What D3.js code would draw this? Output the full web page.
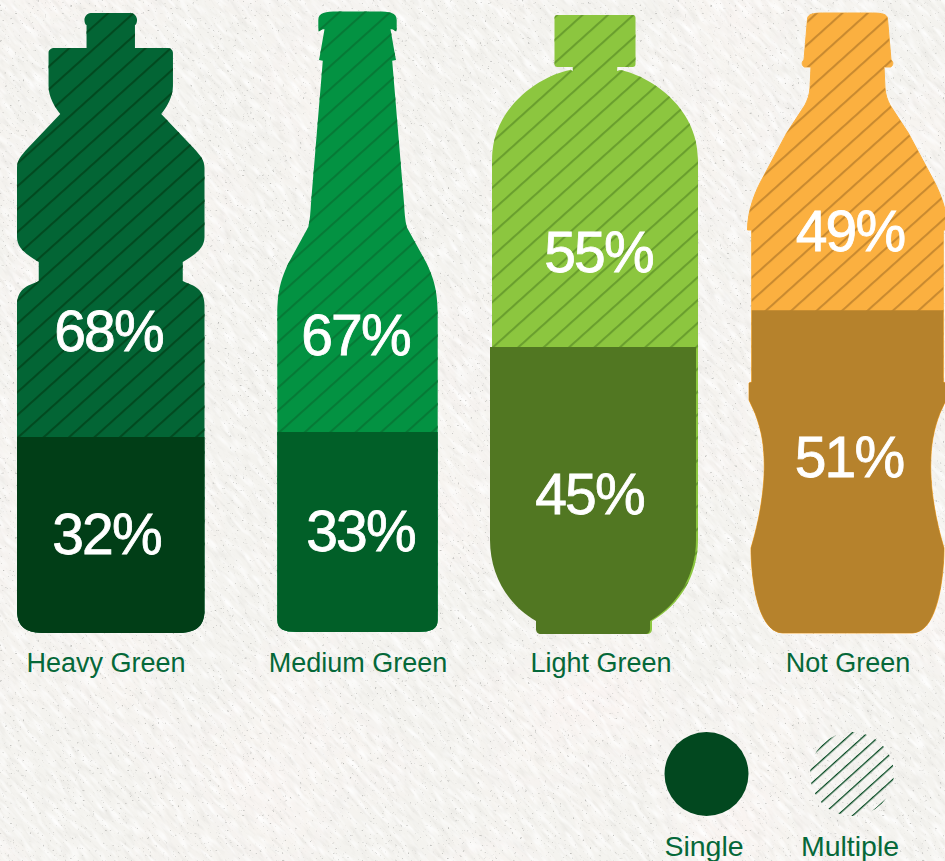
<!DOCTYPE html>
<html>
<head>
<meta charset="utf-8">
<script src="https://cdnjs.cloudflare.com/ajax/libs/d3/7.8.5/d3.min.js"></script>
<style>
  html, body { margin: 0; padding: 0; background: #f4f3ef; overflow: hidden; }
  svg { display: block; }
  text { font-family: "Liberation Sans", Arial, sans-serif; }
</style>
</head>
<body>
<svg id="chart" width="945" height="861"></svg>
<script>
// Drinker groups and the share of single vs multiple purchases
const categories = ["Heavy Green", "Medium Green", "Light Green", "Not Green"];
const singleShare = [32, 33, 45, 51];
const multipleShare = [68, 67, 55, 49];
const legendLabels = ["Single", "Multiple"];

// Palette per bottle
const upperColors = ["#036535", "#039242", "#8cc63f", "#fbb040"];
const lowerColors = ["#013e17", "#015f28", "#517722", "#b6822c"];
const hatchColors = ["#024a20", "#067a36", "#6a9f2e", "#c98a30"];
const labelColor = "#056839";
const legendColor = "#02481f";

// Layout per bottle
const bottleCentres = [110.75, 357.5, 595, 847.5];
const fillRanges = [[633, 20.5], [632, 26], [634, -4], [633, 0]];
const lowerShift = [0, 0, -2, 0];
const upperOutline = [0, 0, 0, 1];
const hatchOrigins = [[17, 200], [277, 317], [492, 177], [752, 245]];
const categoryLabelX = [106, 358, 601, 848];
const singleLabelPos = [[106.5, 554], [360.5, 551], [589.5, 514], [849, 477]];
const multipleLabelPos = [[108.5, 351], [355.5, 355], [598.5, 272], [850, 251]];

// Right-hand half of each silhouette, as offsets from the bottle's centre line.
// L = [u, y], C = [u1, y1, u2, y2, u, y]
const sportProfile = [
  [0, 13], [20, 13], [24, 13, 26.3, 17, 26.3, 20], [26.3, 23, 25, 25, 24.2, 25], [24.2, 48],
  [56, 48], [60, 48, 62.2, 50, 62.2, 53], [62.2, 86], [62.2, 97, 56, 107, 50.5, 114],
  [82.8, 148], [90, 156, 93.75, 160, 93.75, 168], [93.75, 237],
  [93.75, 248, 85, 254, 72, 262], [72, 281], [80, 285, 93.75, 287, 93.75, 305],
  [93.75, 610], [93.75, 628, 84, 633, 65, 633], [0, 633]
];
const beerProfile = [
  [0, 11.5], [20, 11.5], [32, 11.5, 39.2, 12.5, 39.2, 20], [39.2, 28], [38.7, 31.5], [36, 29.5, 34, 29, 33, 29.3],
  [37.5, 55], [38.5, 60], [34.7, 60.7], [46.5, 203], [47, 212, 47.5, 220, 49.2, 227],
  [69, 263], [76, 278, 80.2, 290, 80.2, 315], [80.2, 620], [80.2, 629, 74, 632, 60, 632], [0, 632]
];
const jugProfile = [
  [0, 15], [37.5, 15], [39.5, 15, 40.5, 16, 40.5, 18], [40.5, 64], [40.5, 66, 39.5, 67, 37.5, 67],
  [22.3, 67], [22, 71], [25, 70], [52, 75, 103, 105, 103, 160], [103, 540],
  [103, 575, 85, 605, 57, 621], [57, 629], [57, 632, 55, 634, 52, 634], [0, 634]
];
const colaProfile = [
  [0, 13], [25, 13], [35, 13, 40, 14.5, 40, 19], [43.5, 60], [46, 61, 46, 66, 43, 67], [36.5, 67],
  [37.5, 88], [38, 95, 40, 100, 42.5, 105], [60.8, 133], [87.5, 183], [92, 192, 100, 210, 100, 230],
  [95.8, 230], [95.8, 382], [98.5, 383], [98.5, 400], [92.5, 413], [86, 430, 83.2, 445, 83.2, 467],
  [83.2, 480, 85, 510, 96.5, 548], [96.5, 570, 92, 632, 65, 633], [0, 633]
];
const profiles = [sportProfile, beerProfile, jugProfile, colaProfile];

// Walks the half profile down the right side, then back up the mirrored left side.
function silhouette(profile) {
  const p = d3.path();
  p.moveTo(profile[0][0], profile[0][1]);
  profile.slice(1).forEach(s => {
    if (s.length === 2) p.lineTo(s[0], s[1]);
    else p.bezierCurveTo(s[0], s[1], s[2], s[3], s[4], s[5]);
  });
  for (let i = profile.length - 1; i > 0; i--) {
    const s = profile[i], prev = profile[i - 1];
    const end = prev.slice(-2);
    if (s.length === 2) p.lineTo(-end[0], end[1]);
    else p.bezierCurveTo(-s[2], s[3], -s[0], s[1], -end[0], end[1]);
  }
  p.closePath();
  return p.toString();
}

const svg = d3.select("#chart");
const defs = svg.append("defs");

// Paper grain: short diagonal fibres, pale flecks and faint warm blotches
function grainFilter(id, frequency, octaves, seed, matrix) {
  const f = defs.append("filter").attr("id", id)
    .attr("x", 0).attr("y", 0).attr("width", "100%").attr("height", "100%");
  f.append("feTurbulence").attr("type", "fractalNoise")
    .attr("baseFrequency", frequency).attr("numOctaves", octaves).attr("seed", seed);
  f.append("feColorMatrix").attr("type", "matrix").attr("values", matrix);
}
grainFilter("fibres", "0.06 0.26", 3, 7, "0 0 0 0 0.72  0 0 0 0 0.71  0 0 0 0 0.68  1.1 0 0 0 -0.53");
grainFilter("lightFibres", "0.05 0.2", 2, 21, "0 0 0 0 1  0 0 0 0 1  0 0 0 0 1  2.2 0 0 0 -1.0");
grainFilter("specks", "0.4", 2, 4, "0 0 0 0 0.5  0 0 0 0 0.5  0 0 0 0 0.48  0 5 0 0 -3.45");
grainFilter("blotches", "0.006", 2, 12, "0 0 0 0 0.96  0 0 0 0 0.91  0 0 0 0 0.89  0 0 2.2 0 -0.95");

const paper = svg.append("g");
paper.append("rect").attr("width", 945).attr("height", 861).attr("fill", "#f4f3ef");
paper.append("rect").attr("width", 945).attr("height", 861).attr("filter", "url(#blotches)");
const diag = paper.append("g").attr("transform", "translate(472,430) rotate(48)");
diag.append("rect").attr("x", -700).attr("y", -700).attr("width", 1400).attr("height", 1400)
  .attr("filter", "url(#fibres)");
diag.append("rect").attr("x", -700).attr("y", -700).attr("width", 1400).attr("height", 1400)
  .attr("filter", "url(#lightFibres)");
paper.append("rect").attr("width", 945).attr("height", 861).attr("filter", "url(#specks)");

// One hatch pattern per bottle, phased to its own origin
categories.forEach((c, i) => {
  const [ox, oy] = hatchOrigins[i];
  defs.append("pattern").attr("id", `hatch${i}`)
    .attr("patternUnits", "userSpaceOnUse").attr("width", 40).attr("height", 17)
    .attr("patternTransform", `translate(${ox},${oy}) rotate(-42)`)
    .append("rect").attr("x", 0).attr("y", 0).attr("width", 40).attr("height", 2.1)
    .attr("fill", hatchColors[i]);
});
defs.append("pattern").attr("id", "hatchLegend")
  .attr("patternUnits", "userSpaceOnUse").attr("width", 40).attr("height", 10.3)
  .attr("patternTransform", "translate(810,770) rotate(-42)")
  .append("rect").attr("width", 40).attr("height", 1.3).attr("fill", legendColor);

const bottles = svg.selectAll("g.bottle").data(categories).join("g").attr("class", "bottle");

bottles.each(function (name, i) {
  const g = d3.select(this);
  const d = silhouette(profiles[i]);
  const y = d3.scaleLinear().domain([0, 100]).range(fillRanges[i]);
  const cx = bottleCentres[i];

  // Full silhouette stands for the multiple share
  g.append("path").attr("d", d).attr("transform", `translate(${cx},0)`)
    .attr("fill", upperColors[i])
    .attr("stroke", upperOutline[i] ? upperColors[i] : "none")
    .attr("stroke-width", upperOutline[i]);
  g.append("path").attr("d", d).attr("transform", `translate(${cx},0)`)
    .attr("fill", `url(#hatch${i})`);

  // Lower part, cut at the single share
  defs.append("clipPath").attr("id", `lower${i}`)
    .append("rect").attr("x", 0).attr("width", 945)
    .attr("y", y(singleShare[i])).attr("height", y(0) - y(singleShare[i]) + 1);
  g.append("g").attr("clip-path", `url(#lower${i})`)
    .append("path").attr("d", d)
    .attr("transform", `translate(${cx + lowerShift[i]},0)`)
    .attr("fill", lowerColors[i]);

  const pct = (v, [x, yy]) => g.append("text")
    .attr("x", x).attr("y", yy).attr("text-anchor", "middle")
    .attr("font-size", 57).attr("letter-spacing", "-1.8px")
    .attr("fill", "#fff").attr("stroke", "#fff").attr("stroke-width", 0.8)
    .text(`${v}%`);
  pct(multipleShare[i], multipleLabelPos[i]);
  pct(singleShare[i], singleLabelPos[i]);

  g.append("text").attr("x", categoryLabelX[i]).attr("y", 672)
    .attr("text-anchor", "middle").attr("font-size", 27)
    .attr("fill", labelColor).text(name);
});

// Legend
const legendX = [706.5, 852];
const legendTextX = [704, 850];
const legend = svg.append("g");
legend.append("circle").attr("cx", legendX[0]).attr("cy", 774).attr("r", 42).attr("fill", legendColor);
legend.append("circle").attr("cx", legendX[1]).attr("cy", 774).attr("r", 42).attr("fill", "url(#hatchLegend)");
legend.selectAll("text").data(legendLabels).join("text")
  .attr("x", (d, i) => legendTextX[i]).attr("y", 856)
  .attr("text-anchor", "middle").attr("font-size", 28.5)
  .attr("fill", labelColor).text(d => d);
</script>
</body>
</html>
